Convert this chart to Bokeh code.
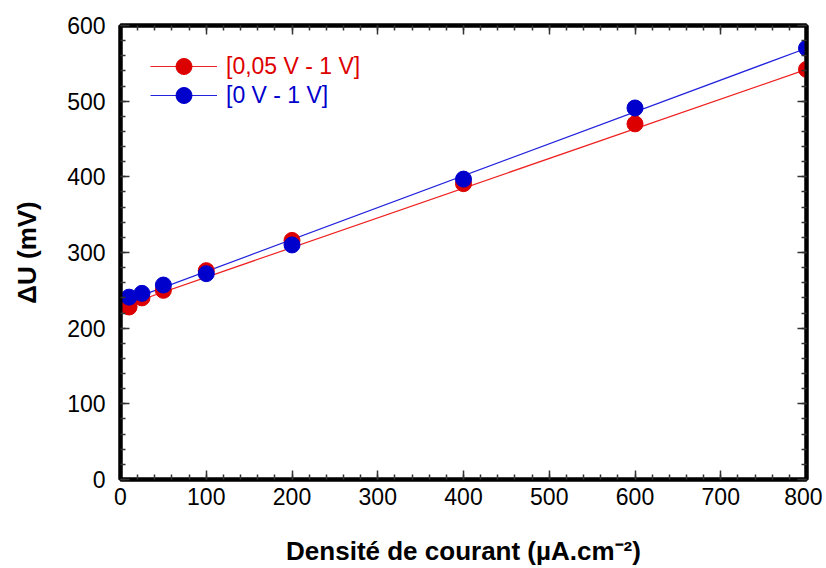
from bokeh.plotting import figure
from bokeh.models import LinearAxis, Legend, LegendItem, Range1d, FixedTicker
from bokeh.embed import file_html
from bokeh.resources import INLINE

# Data
current_density = [10, 25, 50, 100, 200, 400, 600, 800]
du_red = [228, 240, 250, 276, 316, 391, 470, 542]   # [0,05 V - 1 V]
du_blue = [241, 246, 257, 272, 310, 397, 491, 570]  # [0 V - 1 V]
fit_x = [10, 800]
fit_red = [232, 542]
fit_blue = [237, 570]
x_ticks = [0, 100, 200, 300, 400, 500, 600, 700, 800]
y_ticks = [0, 100, 200, 300, 400, 500, 600]
label_red = "[0,05 V - 1 V]"
label_blue = "[0 V - 1 V]"

RED = "#dd0000"
BLUE = "#0000cc"
FONT = "Liberation Sans"

p = figure(width=822, height=568, output_backend="svg", toolbar_location=None,
           x_range=Range1d(0, 800), y_range=Range1d(0, 600),
           x_axis_location=None, y_axis_location=None,
           min_border_left=120, min_border_right=16, min_border_top=25, min_border_bottom=80)
p.grid.visible = False
p.outline_line_color = "black"
p.outline_line_width = 4
p.background_fill_color = "white"
p.border_fill_color = "white"

def style(ax, labels=True):
    ax.axis_line_width = 4
    ax.axis_line_color = "black"
    ax.major_tick_in = 9
    ax.major_tick_out = 0
    ax.minor_tick_in = 5
    ax.minor_tick_out = 0
    ax.major_tick_line_color = "#333333"
    ax.minor_tick_line_color = "#333333"
    ax.major_tick_line_width = 1.5
    ax.minor_tick_line_width = 1.5
    ax.major_label_text_font = FONT
    ax.major_label_text_font_size = "23px"
    ax.major_label_text_color = "black"
    ax.axis_label_text_font = FONT
    ax.axis_label_text_font_style = "bold"
    ax.axis_label_text_font_size = "26px"
    ax.axis_label_text_color = "black"
    if not labels:
        ax.major_label_text_font_size = "0px"
        ax.major_label_text_alpha = 0

xb = LinearAxis(ticker=FixedTicker(ticks=x_ticks, minor_ticks=list(range(0, 801, 20))),
                axis_label="Densité de courant (µA.cm⁻²)")
style(xb)
xb.major_label_standoff = 8
xb.axis_label_standoff = 28
p.add_layout(xb, "below")

yl = LinearAxis(ticker=FixedTicker(ticks=y_ticks, minor_ticks=list(range(0, 601, 20))),
                axis_label="ΔU (mV)")
style(yl)
yl.major_label_standoff = 15
yl.axis_label_standoff = 22
p.add_layout(yl, "left")

xt = LinearAxis(ticker=FixedTicker(ticks=x_ticks, minor_ticks=list(range(0, 801, 20))))
style(xt, labels=False)
p.add_layout(xt, "above")

yr = LinearAxis(ticker=FixedTicker(ticks=y_ticks, minor_ticks=list(range(0, 601, 20))))
style(yr, labels=False)
p.add_layout(yr, "right")

lr = p.line(fit_x, fit_red, line_color="#ee2222", line_width=1.2)
lb = p.line(fit_x, fit_blue, line_color="#2222dd", line_width=1.2)
cr = p.scatter(current_density, du_red, size=16, fill_color=RED, line_color=RED)
cb = p.scatter(current_density, du_blue, size=16, fill_color=BLUE, line_color=BLUE)

def make_legend(label, rends, color, loc):
    lg = Legend(items=[LegendItem(label=label, renderers=rends)], location=loc,
                border_line_alpha=0, background_fill_alpha=0,
                glyph_width=67, glyph_height=40, label_height=40, label_standoff=9,
                padding=0, margin=0, spacing=0,
                label_text_font=FONT, label_text_font_size="23px", label_text_color=color)
    p.add_layout(lg, "center")

make_legend(label_red, [lr, cr], RED, (30, 393))
make_legend(label_blue, [lb, cb], BLUE, (30, 364))

open("out.html", "w").write(file_html(p, INLINE))
